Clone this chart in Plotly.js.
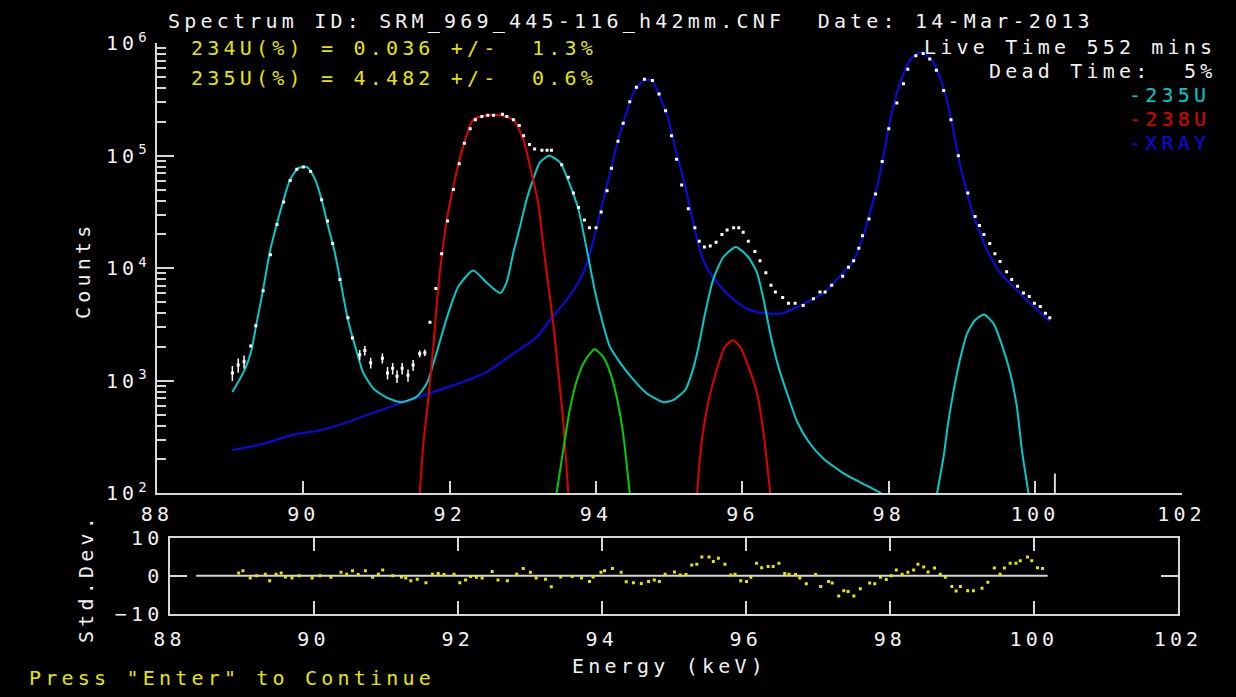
<!DOCTYPE html>
<html><head><meta charset="utf-8">
<script src="https://cdn.plot.ly/plotly-3.0.1.min.js"></script>
<style>
html,body{margin:0;padding:0;background:#000;}
text{letter-spacing:4.2px;}
</style></head>
<body><div id="chart" style="width:1236px;height:697px;"></div>
<script>
// ---------- data ----------
const countTickVals = [1e2, 1e3, 1e4, 1e5, 1e6];
const countTickText = ['10<sup>2</sup>', '10<sup>3</sup>', '10<sup>4</sup>', '10<sup>5</sup>', '10<sup>6</sup>'];
const countMinorTicks = [200,300,400,500,600,700,800,900,
  2000,3000,4000,5000,6000,7000,8000,9000,
  20000,30000,40000,50000,60000,70000,80000,90000,
  200000,300000,400000,500000,600000,700000,800000,900000];
const resTickVals = [-10, 0, 10];
const resTickText = ['\u221210', '0', '10'];

// measured spectrum (white dots)
const dataE = [89.03,89.11,89.19,89.28,89.35,89.45,89.55,89.64,89.73,89.82,
  89.91,90.00,90.10,90.25,90.33,90.40,90.50,90.61,90.67,90.77,
  90.84,90.92,91.08,91.15,91.22,91.28,91.35,91.43,91.50,91.59,
  91.66,91.73,91.81,91.89,91.97,92.05,92.13,92.20,92.28,92.35,
  92.44,92.52,92.60,92.72,92.78,92.87,92.95,93.01,93.09,93.16,
  93.26,93.33,93.39,93.53,93.62,93.69,93.76,93.84,93.91,94.00,
  94.07,94.15,94.21,94.30,94.37,94.46,94.55,94.66,94.77,94.86,
  94.95,95.03,95.10,95.17,95.26,95.35,95.41,95.48,95.56,95.64,
  95.72,95.79,95.88,95.95,96.01,96.08,96.17,96.24,96.32,96.39,
  96.45,96.55,96.63,96.72,96.83,96.97,97.06,97.13,97.22,97.37,
  97.45,97.52,97.59,97.64,97.73,97.82,97.91,98.00,98.11,98.20,
  98.26,98.37,98.47,98.56,98.65,98.75,98.85,98.95,99.08,99.18,
  99.24,99.30,99.38,99.45,99.52,99.61,99.68,99.76,99.84,99.92,
  99.99,100.07,100.14,100.20];
const dataC = [1175,1380,1480,2040,3090,6310,13200,24500,38900,60300,
  75900,79400,72400,40700,26300,16600,7940,3630,2400,1700,
  1860,1445,1585,1175,1290,1096,1290,1122,1380,1740,
  1780,3310,6610,13500,26300,50100,85100,129000,174000,209000,
  224000,229000,229000,234000,224000,209000,186000,151000,126000,115000,
  112000,112000,112000,83200,64600,46800,34700,26900,22900,22900,
  31600,49000,77600,135000,195000,302000,407000,479000,468000,355000,
  251000,151000,93300,55000,33900,22900,17400,15500,15800,17000,
  20000,21900,22900,22900,20900,17400,14100,11700,9120,7080,
  6170,5500,4900,4900,4680,5370,6170,6170,7080,8510,
  10200,11700,15100,19500,27500,45700,89100,174000,295000,437000,
  589000,776000,813000,724000,575000,380000,209000,100000,46800,28800,
  24000,20000,16600,13500,11500,9330,7940,6920,6030,5620,
  4900,4570,3980,3630];
const dataErr = [180,200,200,0,0,0,0,0,0,0,
  0,0,0,0,0,0,0,0,0,180,
  180,160,160,150,150,140,150,140,150,120,
  120,0,0,0,0,0,0,0,0,0,
  0,0,0,0,0,0,0,0,0,0,
  0,0,0,0,0,0,0,0,0,0,
  0,0,0,0,0,0,0,0,0,0,
  0,0,0,0,0,0,0,0,0,0,
  0,0,0,0,0,0,0,0,0,0,
  0,0,0,0,0,0,0,0,0,0,
  0,0,0,0,0,0,0,0,0,0,
  0,0,0,0,0,0,0,0,0,0,
  0,0,0,0,0,0,0,0,0,0,
  0,0,0,0];

// 235U component (cyan), two groups separated by a gap
const u235E = [89.03,89.20,89.29,89.36,89.45,89.54,89.64,89.73,89.82,89.93,
  90.05,90.16,90.25,90.34,90.43,90.52,90.61,90.71,90.82,90.96,
  91.14,91.34,91.55,91.69,91.78,91.87,91.98,92.12,92.32,92.51,
  92.69,92.78,92.87,92.96,93.05,93.14,93.23,93.36,93.51,93.65,
  93.76,93.83,93.90,93.99,94.08,94.19,94.33,94.51,94.69,94.92,
  95.06,95.22,95.31,95.40,95.49,95.60,95.74,95.91,96.08,96.20,
  96.29,96.38,96.49,96.62,96.75,96.90,97.10,97.40,97.70,97.90,
  null,
  98.66,98.75,98.81,98.88,98.97,99.07,99.18,99.30,99.43,99.54,
  99.66,99.75,99.82,99.91];
const u235C = [794,1259,1862,3236,6457,13800,25100,40700,61700,77600,
  79400,61700,40700,23400,13800,6920,3470,2000,1175,851,
  708,646,724,955,1445,2290,3980,6920,9550,7410,
  6030,7590,13800,23400,40700,61700,87100,100000,87100,53700,
  33100,20400,12000,6030,3470,2000,1445,1023,776,646,
  676,832,1175,2000,3980,7940,12600,15500,12600,9120,
  5250,2630,1350,740,430,290,205,148,117,100,
  null,
  100,214,417,776,1514,2630,3470,3890,3236,2138,
  1175,589,240,100];

// 238U component (red)
const u238E = [91.59,91.64,91.71,91.78,91.84,91.96,92.05,92.12,92.21,92.32,
  92.51,92.69,92.87,93.01,93.12,93.21,93.28,93.35,93.42,93.48,
  93.55,93.62,
  null,
  95.38,95.44,95.53,95.65,95.76,95.87,95.97,96.08,96.20,96.29,96.38];
const u238C = [100,275,724,2138,6457,26900,53700,85100,138000,209000,
  229000,229000,209000,138000,69200,38000,15500,6920,3020,1259,
  447,100,
  null,
  100,275,631,1259,2000,2290,2000,1350,776,339,100];

// 234U component (green)
const u234E = [93.46,93.55,93.64,93.74,93.85,93.98,94.10,94.21,94.30,94.37,94.46];
const u234C = [100,240,550,1023,1514,1905,1622,1096,631,339,100];

// X-ray component (blue)
const xrayE = [89.03,89.45,89.86,90.23,90.68,91.14,91.59,92.05,92.51,92.82,
  93.19,93.37,93.60,93.78,93.89,94.01,94.10,94.21,94.30,94.40,
  94.51,94.65,94.76,94.87,94.99,95.10,95.22,95.33,95.42,95.51,
  95.65,95.83,96.06,96.29,96.55,96.79,97.11,97.33,97.52,97.65,
  97.74,97.86,97.95,98.04,98.15,98.31,98.45,98.59,98.70,98.79,
  98.88,98.97,99.07,99.16,99.25,99.34,99.52,99.70,99.93,100.20];
const xrayC = [243,275,331,363,447,575,724,912,1202,1660,
  2455,3467,5250,7940,11750,23400,40700,79400,138000,224000,
  363000,468000,468000,339000,209000,105000,53700,25100,14500,10200,
  7590,5620,4370,3980,3980,4680,6030,8510,11750,19100,
  30900,60300,120000,240000,437000,741000,832000,708000,501000,316000,
  170000,85100,46800,28800,20400,14500,9120,6920,4900,3390];

// ROI end marker
const roiE = [100.27, 100.27];
const roiC = [100, 150];

// residuals (yellow)
const resE = [88.96,89.02,89.12,89.21,89.33,89.39,89.48,89.55,89.61,89.70,
  89.80,89.98,90.09,90.24,90.38,90.46,90.54,90.62,90.72,90.82,
  90.90,90.96,91.10,91.22,91.28,91.35,91.44,91.56,91.65,91.73,
  91.81,91.95,92.03,92.11,92.18,92.26,92.34,92.48,92.56,92.69,
  92.82,92.91,93.01,93.09,93.22,93.30,93.43,93.59,93.72,93.83,
  93.88,93.99,94.04,94.15,94.27,94.34,94.44,94.55,94.65,94.73,
  94.80,94.88,95.01,95.09,95.17,95.25,95.32,95.39,95.49,95.55,
  95.62,95.71,95.79,95.85,95.93,96.01,96.07,96.15,96.22,96.31,
  96.38,96.46,96.54,96.60,96.69,96.75,96.84,96.97,97.04,97.15,
  97.20,97.29,97.36,97.42,97.50,97.59,97.72,97.79,97.87,97.95,
  98.02,98.09,98.17,98.25,98.33,98.39,98.47,98.53,98.62,98.70,
  98.77,98.86,98.92,98.98,99.08,99.16,99.28,99.36,99.45,99.53,
  99.59,99.67,99.75,99.81,99.91,99.97,100.05,100.12];
const resV = [0.7,1.3,-0.6,0,0.4,-1.3,0.4,0.7,-0.3,-0.6,
  0,-0.6,0,-0.4,0.9,0.4,1.3,0.3,1.3,-0.4,
  0.4,1.5,0,-0.3,-0.6,-1.3,-0.9,-1.8,0.4,0.6,
  0.3,0.4,-1.8,-1.1,-0.2,-0.4,-0.6,1.1,-1.1,-1.3,
  0.4,1.9,0.9,-0.6,-0.9,-2.9,-0.3,-0.2,-0.6,-1.5,
  -0.3,0.9,1.3,1.9,0.9,-1.6,-1.8,-2.0,-1.5,-1.1,
  -1.5,0.4,1.0,0.2,0.3,2.8,3.0,4.9,4.9,3.7,
  4.6,3.0,0.2,0.4,-1.3,-1.5,-0.4,3.3,2.1,2.4,
  2.4,3.3,0.6,0.4,0.3,-0.6,-2.1,0.3,-2.8,-1.5,
  -1.9,-5.3,-3.9,-4.1,-5.3,-3.4,-1.9,-2.1,-0.4,-1.0,
  0,1.5,0.4,0.9,1.5,3.0,2.3,1.0,2.0,0.4,
  -0.4,-2.8,-4.0,-2.8,-3.9,-3.9,-3.3,-1.7,2.0,0.4,
  2.0,3.3,3.3,3.9,4.9,3.9,2.1,1.9];
const fitRangeE = [88.37, 100.19];
const fitRangeV = [0, 0];

// ---------- styling ----------
const W = 1236, H = 697;
const FONT = '"DejaVu Sans Mono", monospace';
const TXT = '#f2f2f2', AX = '#d6d6d6';
const CYAN = '#00cccc', RED = '#e00000', BLUE = '#0a0ae6', GREEN = '#00d000', YEL = '#e6e600';
const px = v => v / W, py = v => 1 - v / H;

const curve = (x, y, color) => ({x, y, type:'scatter', mode:'lines', xaxis:'x', yaxis:'y',
  line:{color, width:2, shape:'spline', smoothing:0.6}, connectgaps:false, hoverinfo:'skip'});

const traces = [
  curve(xrayE, xrayC, BLUE),
  curve(u235E, u235C, CYAN),
  curve(u238E, u238C, RED),
  curve(u234E, u234C, GREEN),
  {x:dataE, y:dataC, type:'scatter', mode:'markers', xaxis:'x', yaxis:'y',
   marker:{color:'#ffffff', size:3, symbol:'square', line:{width:0}},
   error_y:{type:'data', array:dataErr, visible:true, color:'#ffffff', thickness:1.5, width:0}},
  {x:roiE, y:roiC, type:'scatter', mode:'lines', xaxis:'x', yaxis:'y3', line:{color:AX, width:2}},
  {x:fitRangeE, y:fitRangeV, type:'scatter', mode:'lines', xaxis:'x2', yaxis:'y2', line:{color:AX, width:2}},
  {x:resE, y:resV, type:'scatter', mode:'markers', xaxis:'x2', yaxis:'y2',
   marker:{color:YEL, size:3, symbol:'square', line:{width:0}}}
];

const tickfont = {family:FONT, size:20, color:TXT};
const ann = (text, x, y, color, xanchor, extra) => Object.assign({
  text, x:px(x), y:py(y), xref:'paper', yref:'paper', xanchor:xanchor||'left', yanchor:'middle',
  showarrow:false, font:{family:FONT, size:20, color}}, extra||{});

const mainDomainY = [py(493.3), py(43.3)];
const layout = {
  width:W, height:H, margin:{l:0, r:0, t:0, b:0},
  paper_bgcolor:'#000', plot_bgcolor:'#000', showlegend:false,
  xaxis:{domain:[px(157), px(1181.5)], range:[88,102], anchor:'y', tickmode:'linear', tick0:88, dtick:2,
    ticks:'inside', ticklen:12, tickwidth:2, tickcolor:AX, showline:true, linecolor:AX, linewidth:2,
    showgrid:false, zeroline:false, tickfont, ticklabelstandoff:2},
  yaxis:{domain:mainDomainY, type:'log', range:[2,6], anchor:'x', tickmode:'array',
    tickvals:countTickVals, ticktext:countTickText, ticks:'inside', ticklen:17, tickwidth:2, tickcolor:AX,
    showline:true, linecolor:AX, linewidth:2, showgrid:false, zeroline:false, tickfont},
  yaxis3:{domain:mainDomainY, type:'log', range:[2,6], anchor:'x', overlaying:'y', side:'left',
    tickmode:'array', tickvals:countMinorTicks, ticks:'inside', ticklen:9, tickwidth:2, tickcolor:AX,
    showticklabels:false, showline:false, showgrid:false, zeroline:false},
  xaxis2:{domain:[px(169.5), px(1178)], range:[88,102], anchor:'y2', tickmode:'linear', tick0:88, dtick:2,
    ticks:'inside', ticklen:13, tickwidth:2, tickcolor:AX, showline:true, linecolor:AX, linewidth:2,
    mirror:'allticks', showgrid:false, zeroline:false, tickfont, ticklabelstandoff:6},
  yaxis2:{domain:[py(614), py(537.5)], range:[-10,10], anchor:'x2', tickmode:'array',
    tickvals:resTickVals, ticktext:resTickText, ticks:'inside', ticklen:17, tickwidth:2, tickcolor:AX,
    showline:true, linecolor:AX, linewidth:2, mirror:'allticks', showgrid:false, zeroline:false, tickfont},
  annotations:[
    ann('Spectrum ID: SRM_969_445-116_h42mm.CNF\u00a0\u00a0Date: 14-Mar-2013', 166, 21, TXT),
    ann('234U(%) = 0.036 +/-\u00a0\u00a01.3%', 189, 48, YEL),
    ann('235U(%) = 4.482 +/-\u00a0\u00a00.6%', 189, 78, YEL),
    ann('Live Time 552 mins', 1218, 47.5, TXT, 'right'),
    ann('Dead Time:\u00a0\u00a05%', 1218, 71, TXT, 'right'),
    ann('-235U', 1127, 95, CYAN),
    ann('-238U', 1127, 118.5, RED),
    ann('-XRAY', 1127, 143, BLUE),
    ann('Counts', 83, 270, TXT, 'center', {textangle:-90}),
    ann('Std.Dev.', 86, 578, TXT, 'center', {textangle:-90}),
    ann('Energy (keV)', 669, 666, TXT, 'center'),
    ann('Press "Enter" to Continue', 27, 678, YEL)
  ]
};

Plotly.newPlot('chart', traces, layout, {displayModeBar:false, staticPlot:true});
</script></body></html>
